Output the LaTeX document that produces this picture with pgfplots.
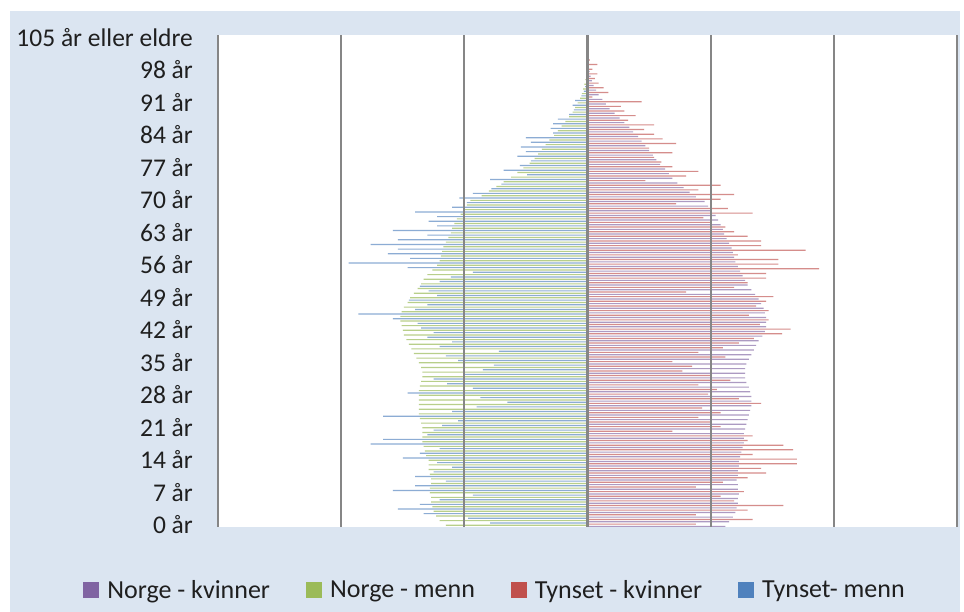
\documentclass[border=0pt]{standalone}
\usepackage{fontspec}
\setmainfont{Carlito}
\usepackage{pgfplots}
\usepackage{pgfplotstable}
\pgfplotsset{compat=1.18}
\definecolor{bgblue}{HTML}{DBE5F1}
\definecolor{nwcol}{HTML}{8064A2}
\definecolor{nmcol}{HTML}{9BBB59}
\definecolor{twcol}{HTML}{C0504D}
\definecolor{tmcol}{HTML}{4F81BD}
\definecolor{gridcol}{HTML}{868686}
\definecolor{txtcol}{HTML}{1F1F1F}
\pgfplotstableread{
age nw nm tw tm
0 1.12 1.15 0.88 0.79
1 1.15 1.20 1.34 0.97
2 1.18 1.23 0.88 1.33
3 1.20 1.25 1.30 1.54
4 1.21 1.26 1.59 1.36
5 1.22 1.27 1.19 1.20
6 1.22 1.27 1.08 0.93
7 1.23 1.28 1.27 1.58
8 1.22 1.28 0.88 1.40
9 1.22 1.27 1.10 1.15
10 1.21 1.27 1.30 1.40
11 1.22 1.28 1.45 1.25
12 1.22 1.29 1.41 1.10
13 1.23 1.29 1.70 1.22
14 1.23 1.29 1.70 1.50
15 1.24 1.31 1.34 1.36
16 1.25 1.32 1.67 1.20
17 1.26 1.33 1.59 1.76
18 1.27 1.34 1.30 1.66
19 1.27 1.34 1.34 1.30
20 1.27 1.34 0.69 1.25
21 1.28 1.34 1.08 1.18
22 1.29 1.35 1.00 1.05
23 1.30 1.36 0.90 1.66
24 1.31 1.37 1.08 1.10
25 1.32 1.37 0.93 0.90
26 1.33 1.37 1.41 0.65
27 1.33 1.37 1.23 0.87
28 1.33 1.37 0.98 1.46
29 1.32 1.37 1.05 0.93
30 1.31 1.36 0.90 1.14
31 1.29 1.35 1.16 1.25
32 1.28 1.34 1.00 1.00
33 1.28 1.34 0.77 0.85
34 1.28 1.35 0.85 0.76
35 1.29 1.37 0.69 1.05
36 1.31 1.39 1.12 1.15
37 1.33 1.41 0.90 0.72
38 1.35 1.43 1.10 1.20
39 1.37 1.45 1.23 1.10
40 1.39 1.47 1.35 1.30
41 1.42 1.49 1.58 1.25
42 1.44 1.50 1.65 1.35
43 1.45 1.51 1.40 1.38
44 1.45 1.52 1.47 1.58
45 1.45 1.52 1.31 1.86
46 1.44 1.51 1.47 1.40
47 1.43 1.49 1.37 1.30
48 1.41 1.46 1.45 1.45
49 1.39 1.44 1.51 1.22
50 1.36 1.41 0.80 1.29
51 1.33 1.38 1.19 1.36
52 1.30 1.35 1.30 1.20
53 1.28 1.33 1.45 1.11
54 1.26 1.30 1.45 0.93
55 1.24 1.26 1.88 1.46
56 1.22 1.22 1.55 1.94
57 1.20 1.20 1.55 1.44
58 1.19 1.19 1.22 1.62
59 1.18 1.18 1.77 1.54
60 1.17 1.17 1.41 1.76
61 1.15 1.15 1.41 1.54
62 1.13 1.13 1.30 1.30
63 1.11 1.11 1.19 1.58
64 1.10 1.10 1.12 1.22
65 1.08 1.08 1.00 1.29
66 1.06 1.06 0.94 1.22
67 1.04 1.03 1.34 1.40
68 1.01 1.00 1.14 1.10
69 0.98 0.98 0.72 0.98
70 0.95 0.95 1.08 1.04
71 0.88 0.86 1.19 0.93
72 0.83 0.80 0.90 0.78
73 0.78 0.74 1.08 0.70
74 0.73 0.68 0.47 0.79
75 0.69 0.62 0.80 0.49
76 0.66 0.57 0.90 0.68
77 0.63 0.52 0.69 0.55
78 0.59 0.47 0.60 0.46
79 0.56 0.43 0.54 0.57
80 0.53 0.40 0.69 0.50
81 0.50 0.37 0.50 0.54
82 0.47 0.34 0.72 0.46
83 0.44 0.31 0.61 0.50
84 0.41 0.27 0.54 0.28
85 0.37 0.24 0.46 0.30
86 0.34 0.21 0.54 0.28
87 0.30 0.18 0.33 0.24
88 0.26 0.15 0.39 0.15
89 0.22 0.12 0.30 0.11
90 0.18 0.10 0.27 0.12
91 0.15 0.08 0.44 0.10
92 0.12 0.06 0.04 0.05
93 0.09 0.045 0.17 0.03
94 0.07 0.035 0.13 0.02
95 0.05 0.025 0.09 0.01
96 0.035 0.018 0.06 0
97 0.025 0.012 0.08 0
98 0.017 0.008 0.04 0
99 0.011 0.005 0.08 0
100 0.007 0.003 0.02 0
101 0.004 0.002 0 0
102 0.002 0.001 0 0
103 0.001 0.001 0 0
104 0.001 0 0 0
105 0.001 0 0 0
}\pyramid

\begin{document}
\begin{tikzpicture}[x=1pt,y=1pt]
\fill[white] (0,0) rectangle (964,612);
\fill[bgblue] (10,0) rectangle (960,601);
\begin{axis}[
  at={(218pt,85pt)}, anchor=south west,
  scale only axis, width=739pt, height=492pt,
  xmin=-3, xmax=3, ymin=-0.5, ymax=105.5,
  axis background/.style={fill=white},
  axis line style={draw=none},
  tick style={draw=none},
  xtick={-3,-2,-1,1,2,3}, xticklabels={},
  xmajorgrids,
  major grid style={gridcol, line width=2.2pt},
  extra x ticks={0}, extra x tick labels={},
  extra x tick style={grid style={gridcol!90!black, line width=4.5pt}},
  ytick={0,7,...,105},
  yticklabels={0 år,7 år,14 år,21 år,28 år,35 år,42 år,49 år,56 år,63 år,70 år,77 år,84 år,91 år,98 år,105 år eller eldre},
  yticklabel style={font=\fontsize{25.5}{30}\selectfont, text=txtcol, inner sep=0pt, xshift=-25pt},
  axis on top,
  legend columns=4,
  legend style={at={(0.3735,-0.128)}, anchor=center, draw=none, fill=none,
    font=\fontsize{26}{30}\selectfont, text=txtcol,
    nodes={inner xsep=0pt},
    /tikz/every even column/.append style={column sep=36pt}},
  legend cell align=left,
  legend image code/.code={\fill[draw=none,#1] (0pt,-8pt) rectangle (16pt,8pt); \path[draw=none,fill=none] (0pt,0pt) (24pt,0pt);},
]
\addlegendimage{fill=nwcol}
\addlegendentry{Norge - kvinner}
\addlegendimage{fill=nmcol}
\addlegendentry{Norge - menn}
\addlegendimage{fill=twcol}
\addlegendentry{Tynset - kvinner}
\addlegendimage{fill=tmcol}
\addlegendentry{Tynset- menn}
\addplot[xbar, bar width=0.25, bar shift=-0.375, fill=nwcol, fill opacity=0.65, draw=none, forget plot]
  table[x=nw, y=age] {\pyramid};
\addplot[xbar, bar width=0.25, bar shift=-0.125, fill=nmcol, fill opacity=0.7, draw=none, forget plot]
  table[x expr=-\thisrow{nm}, y=age] {\pyramid};
\addplot[xbar, bar width=0.25, bar shift=0.125, fill=twcol, fill opacity=0.65, draw=none, forget plot]
  table[x=tw, y=age] {\pyramid};
\addplot[xbar, bar width=0.25, bar shift=0.375, fill=tmcol, fill opacity=0.65, draw=none, forget plot]
  table[x expr=-\thisrow{tm}, y=age] {\pyramid};
\end{axis}
\pgfresetboundingbox
\path (0,0) rectangle (964,612);
\end{tikzpicture}
\end{document}
